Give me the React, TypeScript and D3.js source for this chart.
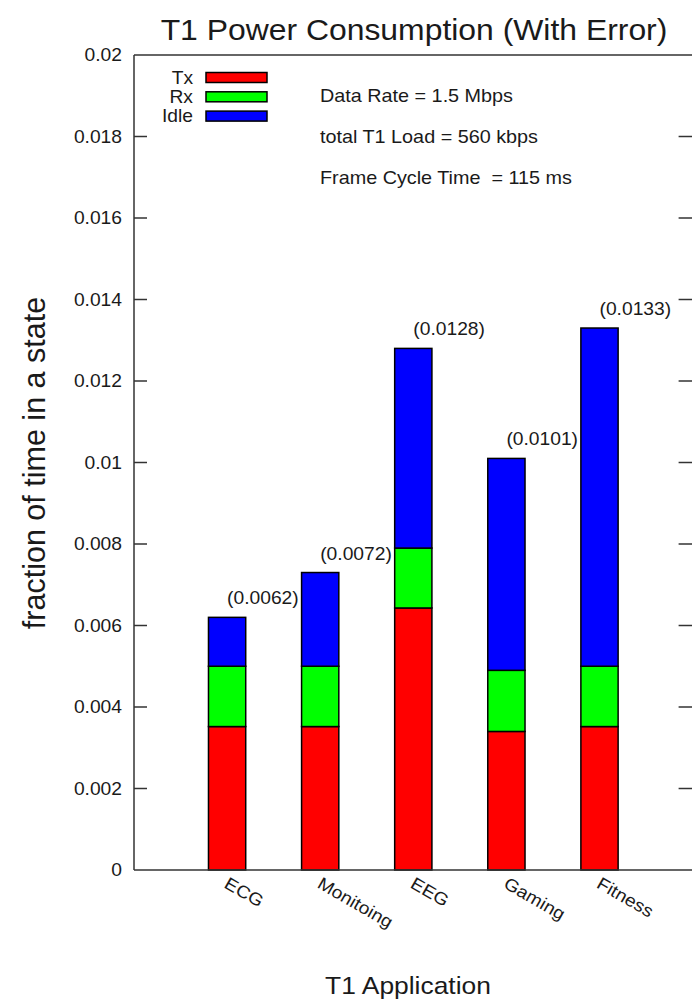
import React from "react";
import * as d3 from "d3";

const categories = ["ECG", "Monitoing", "EEG", "Gaming", "Fitness"];
const txValues = [0.00352, 0.00352, 0.00643, 0.0034, 0.00352];
const rxValues = [0.00148, 0.00148, 0.00147, 0.0015, 0.00148];
const idleValues = [0.0012, 0.0023, 0.0049, 0.0052, 0.0083];
const totalLabels = ["(0.0062)", "(0.0072)", "(0.0128)", "(0.0101)", "(0.0133)"];
const yTicks = [0, 0.002, 0.004, 0.006, 0.008, 0.01, 0.012, 0.014, 0.016, 0.018, 0.02];
const yTickLabels = ["0", "0.002", "0.004", "0.006", "0.008", "0.01", "0.012", "0.014", "0.016", "0.018", "0.02"];
const seriesNames = ["Tx", "Rx", "Idle"];
const seriesColors = ["#ff0000", "#00ff00", "#0000ff"];
const notes = ["Data Rate = 1.5 Mbps", "total T1 Load = 560 kbps", "Frame Cycle Time  = 115 ms"];

const W = 692;
const H = 1001;
const left = 134;
const right = 692.6;
const top = 55;
const bottom = 870;
const SX = 1.1;
const FONT = "'Liberation Sans', Arial, Helvetica, sans-serif";
const INK = "#1a1a1a";

function T({ x, y, children, anchor = "start", size = 17.5, sx = SX, fill = INK, rotate = 0 }: any) {
  return (
    <text
      transform={`translate(${x},${y}) rotate(${rotate}) scale(${sx},1)`}
      textAnchor={anchor}
      fontSize={size}
      fontFamily={FONT}
      fill={fill}
      style={{ whiteSpace: "pre" }}
    >
      {children}
    </text>
  );
}

export default function App() {
  const x = d3.scaleLinear().domain([0, 6]).range([left, right]);
  const y = d3.scaleLinear().domain([0, 0.02]).range([bottom, top]);
  const barW = x(0.4) - x(0);

  const rows = categories.map((c, i) => ({ cat: c, Tx: txValues[i], Rx: rxValues[i], Idle: idleValues[i] }));
  const stack = d3.stack<any>().keys(seriesNames)(rows);

  return (
    <svg width={W} height={H} style={{ position: "absolute", left: 0, top: 0, background: "#fff" }}>
      <rect x={0} y={0} width={W} height={H} fill="#fff" />
      {/* title */}
      <T x={414} y={40} anchor="middle" size={29}>T1 Power Consumption (With Error)</T>

      {/* bars */}
      {stack.map((layer, si) => (
        <g key={si}>
          {layer.map((d, i) => (
            <rect
              key={i}
              x={x(i + 1) - barW / 2}
              y={y(d[1])}
              width={barW}
              height={y(d[0]) - y(d[1])}
              fill={seriesColors[si]}
              stroke="#000"
              strokeWidth={1.5}
            />
          ))}
        </g>
      ))}

      {/* frame */}
      <g stroke="#333" strokeWidth={1.5} fill="none">
        <line x1={left} y1={top} x2={right} y2={top} />
        <line x1={left} y1={top} x2={left} y2={bottom} />
        <line x1={left} y1={bottom} x2={right} y2={bottom} />
      </g>

      {/* y ticks */}
      {yTicks.map((t, i) => (
        <g key={i}>
          {i > 0 && i < yTicks.length - 1 && (
            <g stroke="#333" strokeWidth={1.5}>
              <line x1={left} x2={left + 13} y1={y(t)} y2={y(t)} />
              <line x1={right - 14} x2={right} y1={y(t)} y2={y(t)} />
            </g>
          )}
          <T x={122} y={y(t) + 6} anchor="end">{yTickLabels[i]}</T>
        </g>
      ))}

      {/* x labels */}
      {categories.map((c, i) => (
        <T key={c} x={x(i + 1) - 4} y={887} rotate={30}>{c}</T>
      ))}

      {/* value labels */}
      {stack[2].map((d, i) => (
        <T key={i} x={x(i + 1)} y={y(d[1]) - 13}>{totalLabels[i]}</T>
      ))}

      {/* legend */}
      {seriesNames.map((s, i) => (
        <g key={s}>
          <T x={193} y={77.5 + i * 19.3 + 6} anchor="end">{s}</T>
          <rect x={206} y={72.5 + i * 19.3} width={61} height={10} fill={seriesColors[i]} stroke="#000" strokeWidth={1.5} />
        </g>
      ))}

      {/* notes */}
      {notes.map((n, i) => (
        <T key={i} x={320} y={102 + i * 41} size={18}>{n}</T>
      ))}

      {/* axis titles */}
      <text
        transform={`translate(45,463) rotate(-90)`}
        textAnchor="middle"
        fontSize={30.5}
        fontFamily={FONT}
        fill={INK}
      >
        fraction of time in a state
      </text>
      <T x={408} y={994} anchor="middle" size={24}>T1 Application</T>
    </svg>
  );
}
